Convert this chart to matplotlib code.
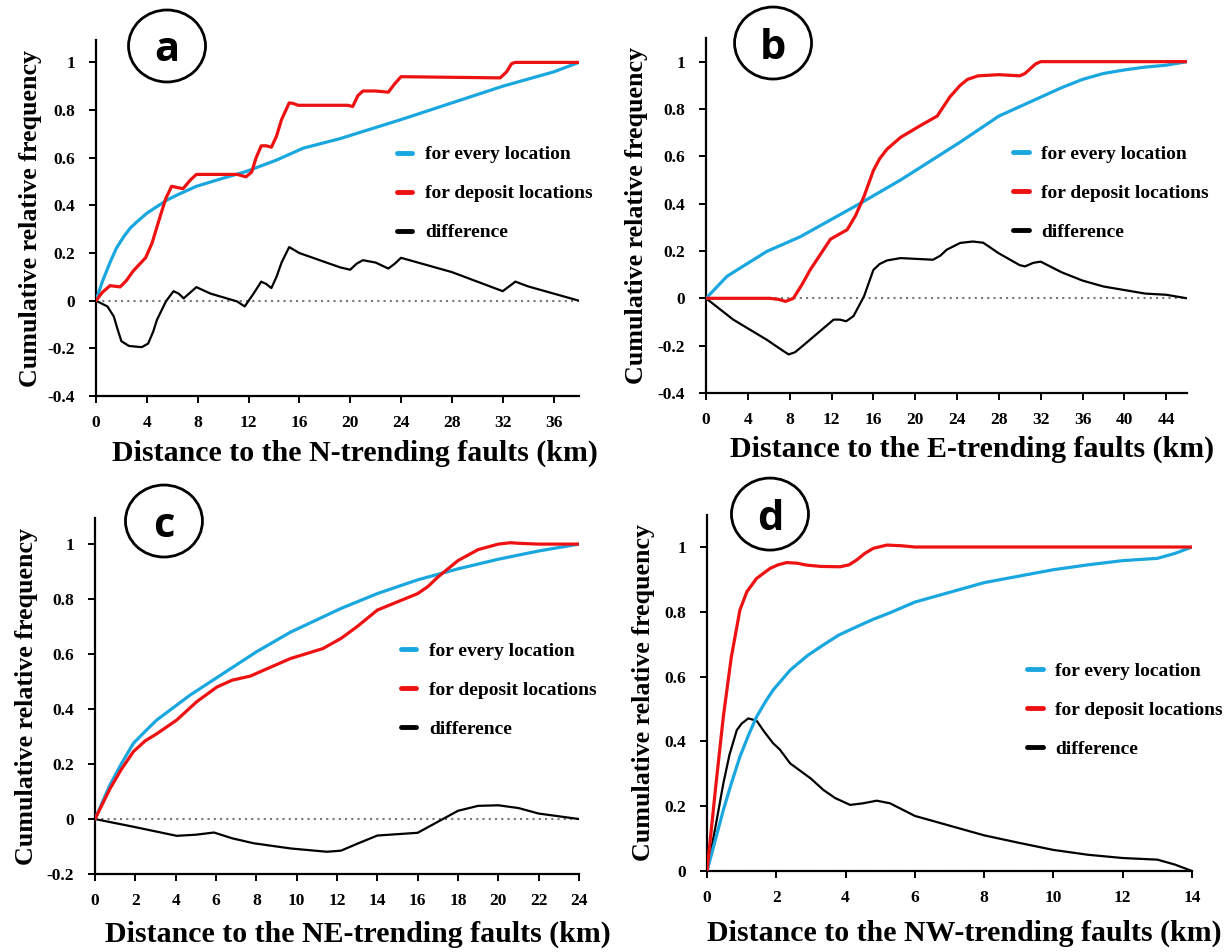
import matplotlib
matplotlib.use("Agg")
import matplotlib.pyplot as plt
from matplotlib.patches import Ellipse

plt.rcParams["font.family"] = ["Liberation Serif", "DejaVu Serif"]
plt.rcParams["font.weight"] = "bold"
plt.rcParams["lines.solid_joinstyle"] = "round"
plt.rcParams["lines.solid_capstyle"] = "round"

BLUE = "#1aa7e0"
RED = "#ee1111"

# ---- panel a: N-trending faults ----
a_x_all = [0, 0.5, 1.1, 1.6, 2.2, 2.7, 3.2, 4.0, 4.8, 5.6, 6.4, 7.9, 10, 11.8, 14.2, 16.3, 19.2,
           24, 28, 32, 36, 38]
a_all = [0, 0.08, 0.16, 0.22, 0.27, 0.305, 0.33, 0.367, 0.395, 0.423, 0.444, 0.48, 0.514, 0.542,
         0.59, 0.64, 0.68, 0.76, 0.83, 0.90, 0.96, 1.0]
a_x_dep = [0, 0.5, 1.1, 1.9, 2.4, 2.9, 3.9, 4.4, 4.8, 5.2, 5.5, 5.95, 6.4, 6.85, 7.4, 7.9, 8.6, 11.1,
           11.8, 12.25, 12.6, 13.0, 13.4, 13.8, 14.2, 14.6, 15.2, 15.5, 15.9, 19.8, 20.2, 20.6, 21,
           22, 23, 23.5, 24, 31.8, 32.3, 32.7, 33, 38]
a_dep = [0, 0.035, 0.063, 0.058, 0.085, 0.123, 0.18, 0.24, 0.31, 0.38, 0.43, 0.48, 0.475, 0.47,
         0.505, 0.53, 0.53, 0.53, 0.52, 0.54, 0.6, 0.65, 0.65, 0.644, 0.69, 0.76, 0.83, 0.828, 0.82,
         0.82, 0.815, 0.86, 0.88, 0.88, 0.875, 0.91, 0.94, 0.935, 0.96, 0.995, 1.0, 1.0]
a_x_diff = [0, 0.9, 1.4, 1.7, 2.0, 2.6, 3.6, 4.1, 4.5, 4.8, 5.5, 6.1, 6.5, 6.9, 7.9, 9.0, 11.1, 11.7,
            12.4, 13.0, 13.4, 13.8, 14.2, 14.6, 15.2, 16.0, 19.2, 20, 20.5, 21, 22, 23, 23.5, 24,
            26, 28, 30, 32, 32.5, 33, 34, 36, 38]
a_diff = [0, -0.024, -0.066, -0.12, -0.17, -0.19, -0.195, -0.18, -0.13, -0.08, -0.003, 0.04, 0.03,
          0.01, 0.057, 0.03, -0.003, -0.024, 0.03, 0.08, 0.07, 0.053, 0.1, 0.16, 0.225, 0.2, 0.14,
          0.13, 0.155, 0.17, 0.16, 0.135, 0.155, 0.18, 0.15, 0.12, 0.08, 0.04, 0.06, 0.08, 0.06,
          0.03, 0.0]

# ---- panel b: E-trending faults ----
b_x_all = [0, 2.0, 5.8, 9.0, 14.7, 18.6, 24.3, 28, 32, 34, 36, 38, 40, 42, 44, 46]
b_all = [0, 0.093, 0.198, 0.26, 0.40, 0.50, 0.66, 0.77, 0.85, 0.89, 0.925, 0.95, 0.965, 0.977,
         0.985, 1.0]
b_x_dep = [0, 6.1, 7.0, 7.6, 8.35, 9.2, 9.95, 11.0, 11.9, 12.7, 13.5, 14.3, 15.1, 16.0, 16.6, 17.3,
           18.6, 20.5, 22.1, 22.7, 23.3, 24.3, 25, 26, 28, 30, 30.5, 31, 31.5, 32, 33, 46]
b_dep = [0, 0, -0.005, -0.013, 0, 0.06, 0.12, 0.19, 0.25, 0.27, 0.29, 0.35, 0.43, 0.54, 0.59, 0.63,
         0.68, 0.73, 0.77, 0.81, 0.85, 0.9, 0.925, 0.94, 0.945, 0.94, 0.95, 0.97, 0.99, 1.0, 1.0, 1.0]
b_x_diff = [0, 2.6, 5.8, 7.3, 7.9, 8.5, 9.0, 12.2, 12.8, 13.4, 14.1, 15.1, 16.0, 16.6, 17.3, 18.6,
            21.7, 22.4, 23.0, 24.3, 25.5, 26.5, 28, 30, 30.5, 31.3, 32, 34, 36, 38, 40, 42, 44, 46]
b_diff = [0, -0.09, -0.175, -0.22, -0.237, -0.228, -0.21, -0.09, -0.09, -0.097, -0.075, 0.008,
          0.12, 0.145, 0.16, 0.17, 0.163, 0.18, 0.205, 0.234, 0.24, 0.235, 0.19, 0.14, 0.135, 0.15,
          0.155, 0.11, 0.075, 0.05, 0.035, 0.02, 0.015, 0.0]

# ---- panel c: NE-trending faults ----
c_x_all = [0, 0.74, 1.3, 1.9, 2.5, 3.06, 4.7, 6.37, 8.0, 9.7, 12.2, 14, 16, 18, 20, 22, 24]
c_all = [0, 0.124, 0.2, 0.275, 0.32, 0.36, 0.45, 0.53, 0.608, 0.68, 0.766, 0.82, 0.87, 0.91, 0.945,
         0.975, 1.0]
c_x_dep = [0, 0.74, 1.3, 1.9, 2.5, 3.06, 4.05, 5.05, 6.04, 6.8, 7.7, 9.7, 11.3, 12.2, 13, 14, 15, 16,
           16.5, 17, 18, 19, 20, 20.6, 21, 22, 24]
c_dep = [0, 0.11, 0.18, 0.245, 0.285, 0.31, 0.36, 0.427, 0.48, 0.505, 0.52, 0.584, 0.62, 0.657,
         0.70, 0.76, 0.79, 0.82, 0.845, 0.88, 0.94, 0.98, 1.0, 1.005, 1.003, 1.0, 1.0]
c_x_diff = [0, 1.9, 4.05, 5.0, 5.9, 6.8, 7.86, 9.7, 11.5, 12.2, 13, 14, 15, 16, 17, 18, 19, 20, 21,
            22, 24]
c_diff = [0, -0.028, -0.061, -0.057, -0.049, -0.07, -0.088, -0.107, -0.119, -0.115, -0.09, -0.06,
          -0.055, -0.05, -0.01, 0.03, 0.048, 0.05, 0.04, 0.02, 0.0]

# ---- panel d: NW-trending faults ----
d_x_all = [0, 0.25, 0.47, 0.7, 0.95, 1.2, 1.43, 1.7, 1.91, 2.4, 2.9, 3.36, 3.8, 4.32, 4.8, 5.28, 6,
           7, 8, 9, 10, 11, 12, 13, 13.5, 14]
d_all = [0, 0.1, 0.188, 0.27, 0.353, 0.42, 0.476, 0.525, 0.559, 0.62, 0.665, 0.698, 0.728, 0.754,
         0.777, 0.797, 0.83, 0.86, 0.89, 0.91, 0.93, 0.945, 0.958, 0.965, 0.98, 1.0]
d_x_dep = [0, 0.25, 0.47, 0.7, 0.95, 1.15, 1.43, 1.82, 2.05, 2.3, 2.6, 2.88, 3.3, 3.84, 4.1, 4.32,
           4.55, 4.8, 5.19, 5.6, 6, 14]
d_dep = [0, 0.26, 0.476, 0.66, 0.806, 0.862, 0.903, 0.934, 0.945, 0.952, 0.95, 0.944, 0.94, 0.939,
         0.945, 0.96, 0.98, 0.996, 1.006, 1.004, 1.0, 1.0]
d_x_diff = [0, 0.25, 0.47, 0.65, 0.86, 1.0, 1.19, 1.43, 1.65, 1.91, 2.1, 2.4, 3.0, 3.36, 3.7, 4.13,
            4.51, 4.9, 5.28, 6, 7, 8, 9, 10, 11, 12, 13, 13.5, 14]
d_diff = [0, 0.14, 0.27, 0.36, 0.435, 0.455, 0.471, 0.464, 0.43, 0.394, 0.375, 0.332, 0.285, 0.25,
          0.225, 0.204, 0.209, 0.217, 0.209, 0.17, 0.14, 0.11, 0.087, 0.065, 0.05, 0.04, 0.035,
          0.02, 0.0]

labels = ["for every location", "for deposit locations", "difference"]

fig = plt.figure(figsize=(12.29, 9.52), dpi=100)


def panel(rect, letter, circ, data, xmax, xticks, ylim, yticks, xlabel, xlab_pos, ylab_x, leg_pos):
    ax = fig.add_axes(rect)
    xa, ya, xd, yd, xf, yf = data
    ax.axhline(0, color="#777777", lw=1.5, ls=(0, (1, 2)), zorder=1)
    l1, = ax.plot(xa, ya, color=BLUE, lw=2.3, zorder=3)
    l2, = ax.plot(xd, yd, color=RED, lw=2.3, zorder=4)
    l3, = ax.plot(xf, yf, color="black", lw=1.6, zorder=2)
    ax.set_xlim(0, xmax)
    ax.set_ylim(*ylim)
    ax.set_xticks(xticks)
    ax.set_yticks(yticks)
    ax.set_yticklabels([f"{v:g}" for v in yticks])
    for s in ["top", "right"]:
        ax.spines[s].set_visible(False)
    for s in ["left", "bottom"]:
        ax.spines[s].set_linewidth(1.6)
    ax.tick_params(direction="out", length=5, width=1.4, labelsize=12.5)
    ax.tick_params(axis="x", pad=9)
    ax.tick_params(axis="y", pad=10)
    ax.set_xlabel(xlabel, fontsize=21.5, fontweight="bold")
    ax.xaxis.set_label_coords(*xlab_pos)
    ax.xaxis.label.set_va("center")
    ax.set_ylabel("Cumulative relative frequency", fontsize=18.7, fontweight="bold")
    ax.yaxis.set_label_coords(ylab_x, 0.5)
    ax.yaxis.label.set_va("center")
    leg = ax.legend([l1, l2, l3], labels, loc="upper left", bbox_to_anchor=leg_pos,
                    frameon=False, fontsize=14, handlelength=0.8, handletextpad=0.65,
                    labelspacing=1.1, borderpad=0, borderaxespad=0)
    for h in leg.get_lines():
        h.set_linewidth(3.5)
    # circled panel letter
    cx, cy = circ
    fig.patches.append(Ellipse((cx, cy), 77 / 1229, 72 / 952, transform=fig.transFigure,
                               fill=False, lw=2, ec="black"))
    fig.text(cx, cy, letter, ha="center", va="center_baseline", fontsize=30,
             family="Open Sans", fontweight="bold")
    return ax


panel([0.0781, 0.584, 0.393, 0.374], "a", (0.1359, 0.9517),
      (a_x_all, a_all, a_x_dep, a_dep, a_x_diff, a_diff), 38, range(0, 37, 4),
      (-0.4, 1.094), [-0.4, -0.2, 0, 0.2, 0.4, 0.6, 0.8, 1],
      "Distance to the N-trending faults (km)", (0.536, -0.16), -0.136, (0.623, 0.703))

panel([0.5745, 0.5872, 0.3914, 0.3729], "b", (0.629, 0.9548),
      (b_x_all, b_all, b_x_dep, b_dep, b_x_diff, b_diff), 46, range(0, 45, 4),
      (-0.4, 1.10), [-0.4, -0.2, 0, 0.2, 0.4, 0.6, 0.8, 1],
      "Distance to the E-trending faults (km)", (0.553, -0.16), -0.145, (0.638, 0.698))

panel([0.0773, 0.0819, 0.3938, 0.374], "c", (0.1334, 0.4527),
      (c_x_all, c_all, c_x_dep, c_dep, c_x_diff, c_diff), 24, range(0, 25, 2),
      (-0.2, 1.095), [-0.2, 0, 0.2, 0.4, 0.6, 0.8, 1],
      "Distance to the NE-trending faults (km)", (0.543, -0.169), -0.142, (0.632, 0.651))

panel([0.5753, 0.0851, 0.3946, 0.374], "d", (0.6265, 0.46),
      (d_x_all, d_all, d_x_dep, d_dep, d_x_diff, d_diff), 14, range(0, 15, 2),
      (0, 1.099), [0, 0.2, 0.4, 0.6, 0.8, 1],
      "Distance to the NW-trending faults (km)", (0.53, -0.174), -0.13, (0.66, 0.586))

fig.savefig("out.png", dpi=100)
